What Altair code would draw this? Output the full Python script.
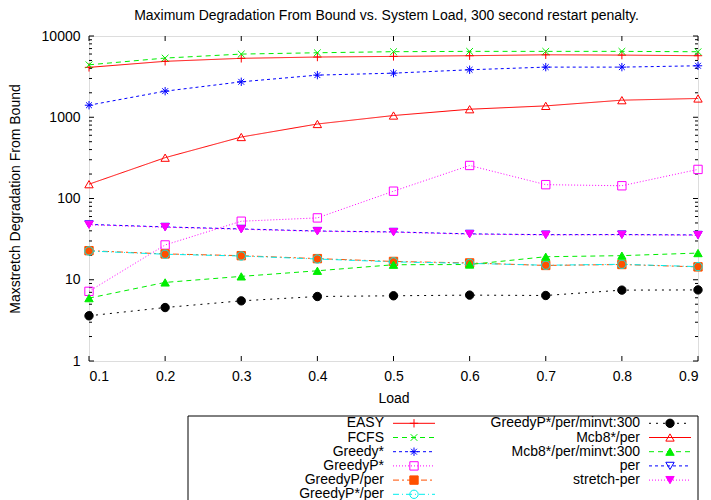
import altair as alt
import pandas as pd

loads = [0.1, 0.2, 0.3, 0.4, 0.5, 0.6, 0.7, 0.8, 0.9]

series_names = [
    "EASY", "FCFS", "Greedy*", "GreedyP*", "GreedyP/per", "GreedyP*/per",
    "GreedyP*/per/minvt:300", "Mcb8*/per", "Mcb8*/per/minvt:300", "per", "stretch-per",
]

easy = [4110, 4880, 5310, 5510, 5610, 5720, 5870, 5820, 5720]
fcfs = [4420, 5350, 5990, 6220, 6410, 6470, 6470, 6470, 6400]
greedy_star = [1406, 2094, 2730, 3300, 3490, 3840, 4140, 4140, 4300]
greedyp_star = [7.2, 26.8, 52.5, 57.7, 123, 255, 148, 143.5, 228]
greedyp_per = [22.8, 20.8, 19.8, 18.2, 16.8, 16.1, 15.0, 15.4, 14.4]
greedyp_star_per = [22.6, 20.6, 19.6, 18.0, 16.6, 15.9, 15.1, 15.5, 14.5]
greedyp_star_per_minvt = [3.6, 4.55, 5.5, 6.22, 6.35, 6.47, 6.4, 7.45, 7.5]
mcb8_per = [150, 318, 571, 826, 1050, 1255, 1380, 1622, 1702]
mcb8_per_minvt = [5.94, 9.27, 11.0, 12.9, 15.3, 15.4, 19.2, 19.8, 21.3]
per = [48, 44.7, 42.2, 39.8, 38.8, 36.7, 35.9, 36.0, 35.6]
stretch_per = [47.5, 44.3, 41.8, 39.5, 38.5, 36.4, 35.6, 35.7, 35.3]

all_values = [easy, fcfs, greedy_star, greedyp_star, greedyp_per, greedyp_star_per,
              greedyp_star_per_minvt, mcb8_per, mcb8_per_minvt, per, stretch_per]

y_major = [1, 10, 100, 1000, 10000]
y_minor = [m * d for d in [1, 10, 100, 1000] for m in range(2, 10)]
x_ticks = loads

# styles
colors = ["#ff0000", "#00ee00", "#0000ff", "#ff00ff", "#ff5000", "#00eeee",
          "#000000", "#ff0000", "#00ee00", "#0000ff", "#ff00ff"]
fills = ["transparent", "transparent", "transparent", "transparent", "#ff5000", "transparent",
         "#000000", "transparent", "#00ee00", "transparent", "#ff00ff"]
dashes = [[1, 0], [5, 4], [3, 3], [1, 2], [6, 3, 2, 3], [6, 3, 1, 3],
          [2, 5], [1, 0], [5, 4], [3, 3], [1, 2]]
PLUS = "M-1,0L1,0M0,-1L0,1"
XSH = "M-0.8,-0.8L0.8,0.8M-0.8,0.8L0.8,-0.8"
STAR = "M-1,0L1,0M0,-1L0,1M-0.7,-0.7L0.7,0.7M-0.7,0.7L0.7,-0.7"
shapes = [PLUS, XSH, STAR, "square", "square", "circle",
          "circle", "triangle-up", "triangle-up", "triangle-down", "triangle-down"]

rows = []
for name, vals in zip(series_names, all_values):
    for l, v in zip(loads, vals):
        rows.append({"series": name, "load": l, "value": v})
df = pd.DataFrame(rows)

leg_col = [0, 0, 0, 0, 0, 0, 1, 1, 1, 1, 1]
leg_row = [0, 1, 2, 3, 4, 5, 0, 1, 2, 3, 4]
leg_df = pd.DataFrame({"series": series_names, "col": leg_col, "row": leg_row})

W, H = 609, 325
FONT = "Liberation Sans"

xscale = alt.Scale(domain=[0.1, 0.9], nice=False, zero=False)
yscale = alt.Scale(type="log", domain=[1, 10000], nice=False)
xaxis = alt.Axis(values=x_ticks, format=".1f", ticks=False, grid=False, domain=False,
                 labelFontSize=14, labelFont=FONT, labelColor="black", labelPadding=8,
                 title="Load", titleFontSize=14, titleFont=FONT, titleFontWeight="normal",
                 titleColor="black", titleY=37, titleBaseline="middle")
yaxis = alt.Axis(values=y_major, format="d", ticks=False, grid=False, domain=False,
                 labelFontSize=14, labelFont=FONT, labelColor="black", labelPadding=9,
                 title="Maxstretch Degradation From Bound", titleFontSize=14, titleFont=FONT,
                 titleFontWeight="normal", titleColor="black", titleX=-74, titleY=H / 2,
                 titleBaseline="middle", titleAlign="center", titleAngle=-90)

sdom = series_names
stroke_enc = alt.Stroke("series:N", scale=alt.Scale(domain=sdom, range=colors), legend=None)
fill_enc = alt.Fill("series:N", scale=alt.Scale(domain=sdom, range=fills), legend=None)
dash_enc = alt.StrokeDash("series:N", scale=alt.Scale(domain=sdom, range=dashes), legend=None)
shape_enc = alt.Shape("series:N", scale=alt.Scale(domain=sdom, range=shapes), legend=None)

X = alt.X("load:Q", scale=xscale, axis=xaxis)
Y = alt.Y("value:Q", scale=yscale, axis=yaxis)

base = alt.Chart(df)
lines = base.mark_line(strokeWidth=1, clip=True).encode(
    x=X, y=Y, stroke=stroke_enc, strokeDash=dash_enc, detail="series:N")
points = base.mark_point(size=70, strokeWidth=1, opacity=1, filled=True).encode(
    x=X, y=Y, stroke=stroke_enc, fill=fill_enc, shape=shape_enc)

ymaj_df = pd.DataFrame({"value": y_major})
ymin_df = pd.DataFrame({"value": y_minor})
xt_df = pd.DataFrame({"load": x_ticks})

tick_layers = []
for d, length in [(ymaj_df, 5), (ymin_df, 3)]:
    tick_layers.append(alt.Chart(d).mark_rule(color="black", strokeWidth=1).encode(
        y=Y, x=alt.value(0), x2=alt.value(length)))
    tick_layers.append(alt.Chart(d).mark_rule(color="black", strokeWidth=1).encode(
        y=Y, x=alt.value(W), x2=alt.value(W - length)))
tick_layers.append(alt.Chart(xt_df).mark_rule(color="black", strokeWidth=1).encode(
    x=X, y=alt.value(H), y2=alt.value(H - 5)))
tick_layers.append(alt.Chart(xt_df).mark_rule(color="black", strokeWidth=1).encode(
    x=X, y=alt.value(0), y2=alt.value(5)))

main = alt.layer(*tick_layers, lines, points)

# legend (own scales, placed below the plot)
LX = alt.X("col:Q", scale=alt.Scale(domain=[0, 1], range=[295, 551]), axis=None)
LY = alt.Y("row:Q", scale=alt.Scale(domain=[0, 5], range=[387.3, 458.3]), axis=None)
lbase = alt.Chart(leg_df)
ltext = lbase.mark_text(align="right", baseline="middle", fontSize=14, font=FONT,
                        color="black").encode(x=LX, y=LY, text="series:N")
lrule = lbase.mark_rule(strokeWidth=1, xOffset=9, x2Offset=51).encode(
    x=LX, x2="col:Q", y=LY, stroke=stroke_enc, strokeDash=dash_enc)
lpts = lbase.mark_point(size=70, strokeWidth=1, opacity=1, filled=True, xOffset=30).encode(
    x=LX, y=LY, stroke=stroke_enc, fill=fill_enc, shape=shape_enc)
lbox = alt.Chart(pd.DataFrame({"a": [0]})).mark_rect(
    filled=False, stroke="black", strokeWidth=1).encode(
    x=alt.value(99), x2=alt.value(609), y=alt.value(380), y2=alt.value(480))
legend = alt.layer(lbox, lrule, lpts, ltext)

chart = alt.layer(main, legend).resolve_scale(x="independent", y="independent").properties(
    width=W, height=H,
    title=alt.TitleParams("Maximum Degradation From Bound vs. System Load, 300 second restart penalty.",
                          fontSize=14, font=FONT, fontWeight="normal", color="black",
                          anchor="middle", offset=6, dx=-7),
    autosize=alt.AutoSizeParams(type="none"),
    padding={"left": 81, "top": 28, "right": 5, "bottom": 140},
).configure_view(stroke="black", strokeWidth=1).configure(background="white")

chart.save("out.html", embed_options={"renderer": "svg", "actions": False})
